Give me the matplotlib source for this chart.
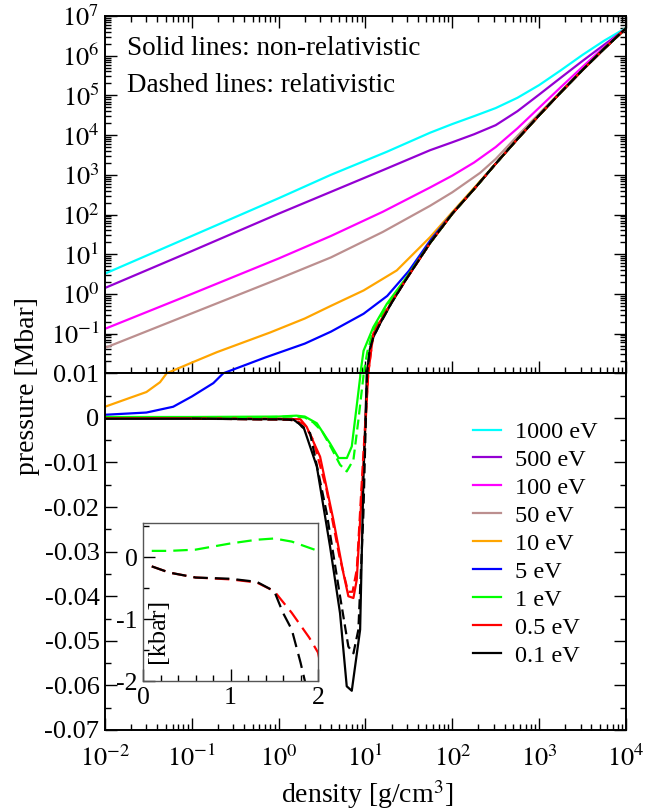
import numpy as np
import matplotlib
matplotlib.use("Agg")
import matplotlib.pyplot as plt
from matplotlib.ticker import LogLocator, MultipleLocator, FixedLocator, FuncFormatter, NullFormatter

plt.rcParams['font.family'] = ['Liberation Serif', 'DejaVu Serif']
plt.rcParams['mathtext.fontset'] = 'stix'
plt.rcParams['axes.unicode_minus'] = False

labels = ['1000 eV', '500 eV', '100 eV', '50 eV', '10 eV', '5 eV', '1 eV', '0.5 eV', '0.1 eV']
colors = ['#00ffff', '#9400d3', '#ff00ff', '#bc8f8f', '#ffa500', '#0000ff', '#00ff00', '#ff0000', '#000000']

x_major = [1e-2, 1e-1, 1e0, 1e1, 1e2, 1e3, 1e4]
top_y_major = [1e-2, 1e-1, 1e0, 1e1, 1e2, 1e3, 1e4, 1e5, 1e6, 1e7]
bot_y_major = [-0.07, -0.06, -0.05, -0.04, -0.03, -0.02, -0.01, 0.0, 0.01]

# density [g/cm^3] and pressure [Mbar], non-relativistic (solid)
rho_1000 = [0.01, 0.1, 1, 4, 17.6, 55.5, 100, 178, 316, 562, 1000, 1778, 3162, 5623, 10000]
p_1000 = [3.24, 28.8, 257, 1000, 3800, 1.15e4, 1.9e4, 3.0e4, 4.8e4, 8.7e4, 1.82e5, 4.3e5, 1.05e6, 2.4e6, 5.0e6]

rho_500 = [0.01, 0.1, 1, 4, 16, 55.5, 100, 178, 316, 562, 1000, 1778, 3162, 5623, 10000]
p_500 = [1.41, 12.0, 105, 372, 1320, 4170, 6600, 1.05e4, 1.78e4, 4.0e4, 1.05e5, 2.8e5, 7.4e5, 1.9e6, 4.8e6]

rho_100 = [0.01, 0.1, 1, 4, 15.8, 55.5, 100, 178, 316, 562, 1000, 1778, 3162, 5623, 10000]
p_100 = [0.132, 1.0, 7.8, 28.8, 117, 480, 955, 2040, 5000, 1.48e4, 4.9e4, 1.62e5, 5.25e5, 1.66e6, 4.9e6]

rho_50 = [0.01, 0.1, 1, 4, 15.8, 55.5, 100, 209, 316, 562, 1000, 1778, 3162, 5623, 10000]
p_50 = [0.0437, 0.324, 2.4, 8.3, 36.3, 166, 363, 1120, 2510, 9550, 3.47e4, 1.26e5, 4.37e5, 1.51e6, 4.9e6]

# shared cold branch all low temperatures run into
cold_rho = [56.2, 100, 178, 316, 562, 1000, 1778, 3162, 5623, 10000]
cold_p = [20, 105, 437, 1905, 7943, 3.16e4, 1.2e5, 4.37e5, 1.51e6, 4.9e6]

rho_10 = [0.01, 0.0194, 0.03, 0.043, 0.0513, 0.1, 0.194, 0.8, 2.0, 4.0, 9.5, 22.9, 55.5, 100, 178] + cold_rho[3:]
p_10 = [0.0025, 0.0045, 0.0058, 0.008, 0.0100, 0.0186, 0.034, 0.107, 0.24, 0.50, 1.22, 3.9, 26.9, 115, 468] + cold_p[3:]

rho_5 = [0.01, 0.03, 0.061, 0.1, 0.177, 0.23, 0.7, 2.0, 4.0, 9.5, 17.8, 31.6, 56.2, 100] + cold_rho[2:]
p_5 = [0.0007, 0.0012, 0.0025, 0.0048, 0.0078, 0.0100, 0.025, 0.056, 0.112, 0.316, 0.89, 3.8, 22.9, 108] + cold_p[2:]

rho_1 = [0.01, 0.1, 1.0, 1.6, 2.0, 2.75, 3.9, 4.9, 6.1, 6.95, 7.9, 8.7, 9.5, 12.3, 17.6, 30] + cold_rho
p_1 = [0.0002, 0.0002, 0.0003, 0.0005, 0.0003, -0.0012, -0.0057, -0.009, -0.009, -0.0064, 0.0025, 0.0093,
       0.037, 0.145, 0.56, 2.7] + cold_p

rho_05 = [0.01, 0.1, 1.0, 1.78, 2.1, 3.0, 4.27, 5.56, 6.35, 7.26, 7.93, 9.46, 10.7, 12.3, 14.7, 20, 30] + cold_rho
p_05 = [-0.0001, -0.0001, -0.0002, -0.0003, -0.002, -0.0087, -0.0229, -0.0348, -0.040, -0.0404, -0.0363,
        -0.0102, 0.0093, 0.1, 0.2, 0.63, 2.5] + cold_p

rho_01 = [0.01, 0.1, 1.0, 1.48, 1.93, 2.75, 3.91, 5.09, 6.08, 6.95, 8.67, 9.46, 10.35, 11.2, 12.3, 14.7, 20, 30] + cold_rho
p_01 = [-0.0002, -0.0002, -0.0003, -0.0004, -0.002, -0.0109, -0.0289, -0.0438, -0.0602, -0.0612, -0.0475,
        -0.0139, 0.0093, 0.04, 0.081, 0.178, 0.6, 2.5] + cold_p

# relativistic (dashed), only where they differ visibly
rrho_1 = [0.1, 0.3, 0.6, 1.0, 1.3, 1.5, 1.7, 1.9, 2.0, 2.5, 3.16, 3.98, 5.09, 6.08, 7.26, 8.28, 9.46, 10.5,
          12.3, 17.6, 30] + cold_rho
rp_1 = [1.0e-4, 1.0e-4, 1.2e-4, 2.2e-4, 2.8e-4, 3.0e-4, 2.5e-4, 1.5e-4, 1.0e-4, -0.0010, -0.003, -0.0065,
        -0.0105, -0.012, -0.0094, -0.0005, 0.0093, 0.035, 0.12, 0.5, 2.6] + cold_p

rrho_05 = [0.1, 0.3, 0.6, 1.0, 1.3, 1.5, 1.7, 1.8, 1.9, 2.0, 2.5, 3.55, 5.0, 6.3, 7.1, 7.94, 9.46, 10.7,
           12.3, 14.7, 20, 30] + cold_rho
rp_05 = [-1.5e-4, -2.5e-4, -3.3e-4, -3.6e-4, -4.1e-4, -5.5e-4, -9e-4, -1.1e-3, -1.3e-3, -1.54e-3, -0.005,
         -0.016, -0.031, -0.039, -0.039, -0.034, -0.008, 0.0093, 0.1, 0.2, 0.63, 2.5] + cold_p

rrho_01 = [0.1, 0.3, 0.6, 1.0, 1.3, 1.5, 1.6, 1.7, 1.8, 1.85, 2.3, 3.58, 5.09, 6.35, 7.26, 8.28, 9.46, 10.35,
           11.2, 12.3, 14.7, 20, 30] + cold_rho
rp_01 = [-1.5e-4, -2.5e-4, -3.3e-4, -3.5e-4, -4.0e-4, -5.5e-4, -9e-4, -1.17e-3, -1.7e-3, -2.0e-3, -0.0034,
         -0.0214, -0.040, -0.0513, -0.0528, -0.0475, -0.0214, 0.008, 0.04, 0.081, 0.178, 0.6, 2.5] + cold_p

solid = [(rho_1000, p_1000), (rho_500, p_500), (rho_100, p_100), (rho_50, p_50), (rho_10, p_10),
         (rho_5, p_5), (rho_1, p_1), (rho_05, p_05), (rho_01, p_01)]
dashed = [(rrho_1, rp_1, colors[6]), (rrho_05, rp_05, colors[7]), (rrho_01, rp_01, colors[8])]

W, H = 672, 811
fig = plt.figure(figsize=(W / 100, H / 100), dpi=100)
ax_top = fig.add_axes([105 / W, 1 - 373.3 / H, 521 / W, 357.3 / H])
ax_bot = fig.add_axes([105 / W, 1 - 730 / H, 521 / W, 356.7 / H])

lw = 1.6
main_dash = (4.5, 2.3)
handles = []
for ax in (ax_top, ax_bot):
    for (x, y), c, lab in zip(solid, colors, labels):
        ln, = ax.plot(x, y, color=c, lw=lw, label=lab)
        if ax is ax_bot:
            handles.append(ln)
    for x, y, c in dashed:
        ax.plot(x, y, color=c, lw=lw, dashes=main_dash)

for ax in (ax_top, ax_bot):
    ax.set_xscale('log')
    ax.set_xlim(0.01, 1e4)
    ax.xaxis.set_major_locator(FixedLocator(x_major))
    ax.xaxis.set_minor_locator(LogLocator(base=10, subs=np.arange(2, 10), numticks=20))
    ax.xaxis.set_minor_formatter(NullFormatter())
    for s in ax.spines.values():
        s.set_linewidth(1.4)

ax_top.set_yscale('log', nonpositive='mask')
ax_top.set_ylim(0.01, 1e7)
ax_top.yaxis.set_major_locator(FixedLocator(top_y_major))
ax_top.yaxis.set_minor_locator(LogLocator(base=10, subs=np.arange(2, 10), numticks=20))
ax_top.yaxis.set_minor_formatter(NullFormatter())
ax_top.yaxis.set_major_formatter(FuncFormatter(
    lambda v, pos: '0.01' if abs(v - 0.01) < 1e-9 else r'$10^{%d}$' % round(np.log10(v))))
ax_top.tick_params(which='both', direction='in', top=True, right=True, labelbottom=False,
                   labelsize=19, pad=4, width=1)
ax_top.tick_params(which='major', length=8.6)
ax_top.tick_params(which='minor', length=4.3)

ax_bot.set_ylim(-0.07, 0.01)
ax_bot.yaxis.set_major_locator(FixedLocator(bot_y_major))
ax_bot.yaxis.set_minor_locator(MultipleLocator(0.005))
ax_bot.yaxis.set_major_formatter(FuncFormatter(
    lambda v, pos: '' if v > 0.005 else ('0' if abs(v) < 1e-9 else '%.2f' % v)))
ax_bot.xaxis.set_major_formatter(FuncFormatter(lambda v, pos: r'$10^{%d}$' % round(np.log10(v))))
ax_bot.tick_params(which='both', direction='in', top=False, right=True, labelsize=19, width=1)
ax_bot.tick_params(axis='y', pad=4)
ax_bot.tick_params(axis='x', pad=11)
ax_bot.tick_params(which='major', length=8.6)
ax_bot.tick_params(which='minor', length=4.3)

ax_top.text(0.042, 0.891, 'Solid lines: non-relativistic', transform=ax_top.transAxes,
            fontsize=19.5, va='baseline')
ax_top.text(0.042, 0.788, 'Dashed lines: relativistic', transform=ax_top.transAxes,
            fontsize=19.5, va='baseline')

ax_bot.legend(handles=handles, loc='upper left', bbox_to_anchor=(472.7 / W, 1 - 421 / H),
              bbox_transform=fig.transFigure, frameon=False, fontsize=17.5, handlelength=1.15,
              handletextpad=0.6, labelspacing=0.245, borderpad=0, borderaxespad=0)

fig.text(27 / W, 1 - 386 / H, 'pressure [Mbar]', rotation=90, ha='center', va='center', fontsize=20)
fig.text(367 / W, 1 - 795 / H, 'density [g/cm$^3$]', ha='center', va='center', fontsize=20)

# inset: low-density relativistic curves in kbar
ax_in = fig.add_axes([143 / W, 1 - 681 / H, 175 / W, 158 / H])
for x, y, c in dashed:
    ax_in.plot(x, np.array(y) * 1000, color=c, lw=lw, dashes=(6.5, 3.2))
ax_in.set_xlim(0, 2)
ax_in.set_ylim(-2, 0.55)
ax_in.xaxis.set_major_locator(FixedLocator([0, 1, 2]))
ax_in.xaxis.set_minor_locator(MultipleLocator(0.2))
ax_in.yaxis.set_major_locator(FixedLocator([-2, -1, 0]))
ax_in.yaxis.set_minor_locator(MultipleLocator(0.5))
ax_in.xaxis.set_major_formatter(FuncFormatter(lambda v, pos: '%d' % round(v)))
ax_in.yaxis.set_major_formatter(FuncFormatter(lambda v, pos: '%d' % round(v)))
ax_in.tick_params(which='both', direction='in', labelsize=18.5, pad=4, width=1)
ax_in.tick_params(which='major', length=8.6)
ax_in.tick_params(which='minor', length=4.3)
for s in ax_in.spines.values():
    s.set_linewidth(1.0)
    s.set_color('#555555')
ax_in.text(0.086, 0.32, '[kbar]', rotation=90, ha='center', va='center', fontsize=19,
           transform=ax_in.transAxes)

fig.savefig('out.png', dpi=100)
